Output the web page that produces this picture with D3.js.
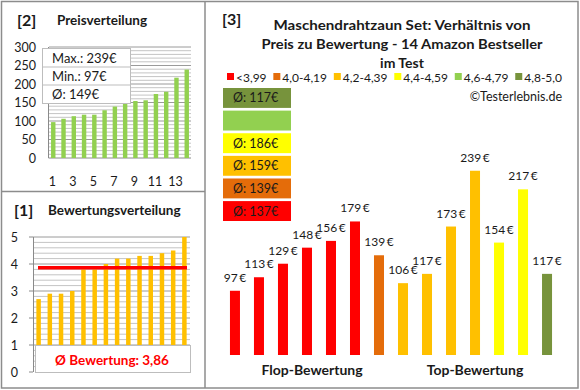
<!DOCTYPE html>
<html><head><meta charset="utf-8">
<script src="https://cdn.jsdelivr.net/npm/d3@7"></script>
<style>
body{margin:0;background:#fff;}
svg{display:block;font-family:Lato,"Open Sans",sans-serif;}
</style></head>
<body><svg id="c" width="580" height="390"></svg>
<script>
// ---- data ----
const productPrices  = [97, 113, 129, 148, 156, 179, 139, 106, 117, 173, 239, 154, 217, 117];
const productRatings = [2.7, 2.9, 2.9, 3.0, 3.8, 3.8, 4.0, 4.2, 4.2, 4.3, 4.3, 4.4, 4.5, 5.0];
const ratingClasses  = ["<3,99", "4,0-4,19", "4,2-4,39", "4,4-4,59", "4,6-4,79", "4,8-5,0"];
const classLimits    = [0, 4.0, 4.2, 4.4, 4.6, 4.8];
const classColors    = ["#FF0000", "#E46C0A", "#FFC000", "#FFFF00", "#92D050", "#77933C"];
const priceTicks     = [0, 50, 100, 150, 200, 250, 300];
const ratingTicks    = [0, 1, 2, 3, 4, 5];
const indexTicks     = [1, 3, 5, 7, 9, 11, 13];
const titleLines     = ["Maschendrahtzaun Set: Verhältnis von", "Preis zu Bewertung - 14 Amazon Bestseller", "im Test"];
const groupLabels    = ["Flop-Bewertung", "Top-Bewertung"];

const svg = d3.select("#c");
const cls = r => { let k = 0; classLimits.forEach((l, i) => { if (r >= l - 1e-9) k = i; }); return k; };
const fmt = v => String(v).replace(".", ",");

// ---- panel frames ----
const frame = "#8c8c8c";
svg.append("rect").attr("x",1.5).attr("y",1.5).attr("width",576.5).attr("height",386.5).attr("fill","none").attr("stroke",frame).attr("stroke-width",1.5);
svg.append("line").attr("x1",205).attr("x2",205).attr("y1",1.5).attr("y2",388).attr("stroke",frame).attr("stroke-width",1.5);
svg.append("line").attr("x1",1.5).attr("x2",205).attr("y1",191.5).attr("y2",191.5).attr("stroke",frame).attr("stroke-width",1.5);

// ================= Panel [2] Preisverteilung =================
const p2 = svg.append("g");
p2.append("text").attr("x",17).attr("y",26).attr("font-size",16).attr("font-weight","bold").attr("fill","#1a1a1a").text("[2]");
p2.append("text").attr("x",57).attr("y",25).attr("font-size",13.5).attr("font-weight","bold").attr("fill","#1a1a1a").text("Preisverteilung");

const sortedPrices = productPrices.slice().sort((a,b)=>a-b);
const x2 = d3.scaleBand().domain(d3.range(1,15)).range([49,191]).paddingInner(0.57).paddingOuter(0.2);
const y2 = d3.scaleLinear().domain([0,300]).range([158,47]);
p2.append("g").selectAll("line").data(d3.range(10,301,10)).join("line")
  .attr("x1",49).attr("x2",191).attr("y1",d=>y2(d)).attr("y2",d=>y2(d))
  .attr("stroke",d=>d%50===0?"#9a9a9a":"#c4c4c4").attr("stroke-width",1);
p2.append("line").attr("x1",48.5).attr("x2",48.5).attr("y1",y2(300)).attr("y2",y2(0)).attr("stroke","#8a8a8a");
p2.append("line").attr("x1",48.5).attr("x2",191).attr("y1",y2(0)).attr("y2",y2(0)).attr("stroke","#8a8a8a");
p2.append("g").selectAll("rect").data(sortedPrices).join("rect")
  .attr("x",(d,i)=>x2(i+1)).attr("width",x2.bandwidth())
  .attr("y",d=>y2(d)).attr("height",d=>y2(0)-y2(d)).attr("fill","#92D050");
p2.append("g").selectAll("text").data(priceTicks).join("text")
  .attr("x",36).attr("y",d=>y2(d)+4.5).attr("text-anchor","end").attr("font-size",12.5).attr("fill","#1a1a1a").text(d=>d);
p2.append("g").selectAll("text").data(indexTicks).join("text")
  .attr("x",d=>x2(d)+x2.bandwidth()/2-1).attr("y",186).attr("text-anchor","middle").attr("font-size",12.5).attr("fill","#1a1a1a").text(d=>d);
// info box
const info = [`Max.: ${d3.max(productPrices)}€`, `Min.: ${d3.min(productPrices)}€`, `Ø: ${Math.round(d3.mean(productPrices))}€`];
p2.append("rect").attr("x",42.5).attr("y",48.5).attr("width",88).attr("height",55).attr("fill","#fff").attr("stroke","#bdbdbd");
[67,85].forEach(y=>p2.append("line").attr("x1",42.5).attr("x2",130.5).attr("y1",y).attr("y2",y).attr("stroke","#bdbdbd"));
p2.append("g").selectAll("text").data(info).join("text")
  .attr("x",52).attr("y",(d,i)=>62.5+i*18).attr("font-size",13).attr("fill","#1a1a1a").text(d=>d);

// ================= Panel [1] Bewertungsverteilung =================
const p1 = svg.append("g");
p1.append("text").attr("x",14).attr("y",216).attr("font-size",16).attr("font-weight","bold").attr("fill","#1a1a1a").text("[1]");
p1.append("text").attr("x",48).attr("y",215).attr("font-size",13.5).attr("font-weight","bold").attr("fill","#1a1a1a").text("Bewertungsverteilung");

const sortedRatings = productRatings.slice().sort((a,b)=>a-b);
const x1 = d3.scaleBand().domain(d3.range(1,15)).range([33,190]).paddingInner(0.6).paddingOuter(0.3);
const y1 = d3.scaleLinear().domain([0,5]).range([372,237]);
p1.append("g").selectAll("line").data(d3.range(1,26)).join("line")
  .attr("x1",33).attr("x2",190).attr("y1",d=>y1(d*0.2)).attr("y2",d=>y1(d*0.2))
  .attr("stroke",d=>d%5===0?"#9a9a9a":"#c4c4c4");
p1.append("line").attr("x1",33.5).attr("x2",33.5).attr("y1",y1(5)).attr("y2",y1(0)).attr("stroke","#8a8a8a");
p1.append("g").selectAll("line").data(ratingTicks).join("line")
  .attr("x1",29).attr("x2",33).attr("y1",d=>y1(d)).attr("y2",d=>y1(d)).attr("stroke","#8a8a8a");
p1.append("g").selectAll("rect").data(sortedRatings).join("rect")
  .attr("x",(d,i)=>x1(i+1)).attr("width",x1.bandwidth())
  .attr("y",d=>y1(d)).attr("height",d=>y1(0)-y1(d)).attr("fill","#FFC000");
p1.append("g").selectAll("text").data(ratingTicks).join("text")
  .attr("x",18).attr("y",d=>y1(d)+4.5).attr("text-anchor","end").attr("font-size",12.5).attr("fill","#1a1a1a").text(d=>d);
const avgR = d3.mean(productRatings);
p1.append("line").attr("x1",38).attr("x2",187).attr("y1",y1(avgR)).attr("y2",y1(avgR)).attr("stroke","#FF0000").attr("stroke-width",3.5);
p1.append("rect").attr("x",35.5).attr("y",345.5).attr("width",155).attr("height",27).attr("fill","#fff").attr("stroke","#bdbdbd");
p1.append("text").attr("x",112).attr("y",364.5).attr("text-anchor","middle").attr("font-size",13.5).attr("font-weight","bold").attr("fill","#FF0000")
  .text(`Ø Bewertung: ${fmt(avgR.toFixed(2))}`);

// ================= Panel [3] =================
const p3 = svg.append("g");
p3.append("text").attr("x",222).attr("y",25).attr("font-size",16).attr("font-weight","bold").attr("fill","#1a1a1a").text("[3]");
const tl = [257, 281, 0];
p3.append("g").selectAll("text").data(titleLines).join("text")
  .attr("x",402).attr("y",(d,i)=>30+i*19).attr("text-anchor","middle").attr("font-size",14).attr("font-weight","bold").attr("fill","#1a1a1a")
  .each(function(d,i){ if (tl[i]) d3.select(this).attr("textLength",tl[i]).attr("lengthAdjust","spacingAndGlyphs"); })
  .text(d=>d);

// legend: laid out from measured text widths between x=227 and x=562
const leg = p3.append("g").selectAll("g").data(ratingClasses).join("g");
leg.append("rect").attr("x",0).attr("y",-4).attr("width",7).attr("height",7).attr("fill",(d,i)=>classColors[i]);
leg.append("text").attr("x",9).attr("y",4.5).attr("font-size",12).attr("fill","#1a1a1a").text(d=>d);
const widths = [];
leg.select("text").each(function(){ widths.push(this.getComputedTextLength() + 9); });
const gap = (562 - 227 - d3.sum(widths)) / (widths.length - 1);
let lx = 227;
leg.each(function(d,i){ d3.select(this).attr("transform",`translate(${lx},77)`); lx += widths[i] + gap; });

p3.append("text").attr("x",562).attr("y",101).attr("text-anchor","end").attr("font-size",12.5).attr("fill","#1a1a1a").text("©Testerlebnis.de");

// average boxes per class (top: best class)
const classAvg = ratingClasses.map((c,k)=>{
  const v = productPrices.filter((p,i)=>cls(productRatings[i])===k);
  return v.length ? Math.round(d3.mean(v)) : null;
});
const boxOrder = d3.range(5,-1,-1);
const yb = d3.scaleBand().domain(boxOrder).range([88,221]).paddingInner(0.12);
const boxes = p3.append("g").selectAll("g").data(boxOrder).join("g").attr("transform",k=>`translate(223,${yb(k)})`);
boxes.append("rect").attr("width",68).attr("height",yb.bandwidth()).attr("fill",k=>classColors[k]);
boxes.filter(k=>classAvg[k]!==null).append("text").attr("x",10).attr("y",yb.bandwidth()/2+4.5)
  .attr("font-size",12.5).attr("fill","#1a1a1a").text(k=>`Ø: ${classAvg[k]}€`);

// bars
const x3 = d3.scaleBand().domain(d3.range(productPrices.length)).range([223,559]).paddingInner(0.583).paddingOuter(0.29);
const y3 = d3.scaleLinear().domain([21,260]).range([355,153]);
p3.append("g").selectAll("rect").data(productPrices).join("rect")
  .attr("x",(d,i)=>x3(i)).attr("width",x3.bandwidth())
  .attr("y",d=>y3(d)).attr("height",d=>y3(21)-y3(d))
  .attr("fill",(d,i)=>classColors[cls(productRatings[i])]);
p3.append("g").selectAll("text").data(productPrices).join("text")
  .attr("x",(d,i)=>x3(i)+x3.bandwidth()/2).attr("y",d=>y3(d)-9)
  .attr("text-anchor","middle").attr("font-size",12).attr("fill","#1a1a1a").text(d=>`${d}\u2009€`);
p3.append("g").selectAll("text").data(groupLabels).join("text")
  .attr("x",(d,i)=>[312,475][i]).attr("y",375).attr("text-anchor","middle").attr("font-size",14).attr("font-weight","bold").attr("fill","#1a1a1a").text(d=>d);
</script></body></html>
